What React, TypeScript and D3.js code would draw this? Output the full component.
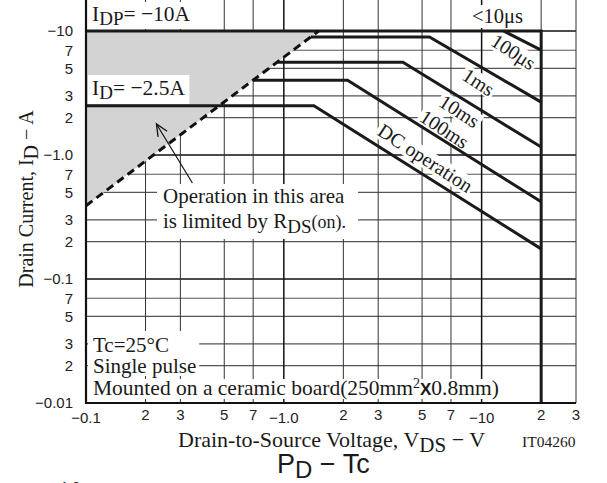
import React, { useEffect, useRef } from "react";
import * as d3 from "d3";

type Pt = [number, number];

// axis ticks (magnitudes) and their printed labels
const xTicks = [0.1, 0.2, 0.3, 0.5, 0.7, 1, 2, 3, 5, 7, 10, 20, 30];
const xTickLabels = ["−0.1", "2", "3", "5", "7", "−1.0", "2", "3", "5", "7", "−10", "2", "3"];
const yTicks = [0.01, 0.02, 0.03, 0.05, 0.07, 0.1, 0.2, 0.3, 0.5, 0.7, 1, 2, 3, 5, 7, 10];
const yTickLabels = ["−0.01", "2", "3", "5", "7", "−0.1", "2", "3", "5", "7", "−1.0", "2", "3", "5", "7", "−10"];

// SOA boundaries as [|VDS|, |ID|]
const limit10us: Pt[] = [[0.1, 10], [20, 10], [20, 0.01]];
const limit100us: Pt[] = [[12.9, 10], [20, 7.0]];
const limit1ms: Pt[] = [[1.37, 8.95], [5.45, 8.95], [20, 2.67]];
const limit10ms: Pt[] = [[0.93, 5.6], [4.0, 5.6], [20, 1.16]];
const limit100ms: Pt[] = [[0.7, 4.0], [2.1, 4.0], [20, 0.42]];
const limitDC: Pt[] = [[0.1, 2.5], [1.42, 2.5], [20, 0.175]];
const rdsOnLimit: Pt[] = [[0.1, 0.39], [1.5, 10]];

// curve label anchors (data coords)
const curveLabels = [
  { text: "100μs", v: 14.5, i: 6.8 },
  { text: "1ms", v: 9.66, i: 3.88 },
  { text: "10ms", v: 7.73, i: 2.26 },
  { text: "100ms", v: 6.49, i: 1.62 },
  { text: "DC operation", v: 5.2, i: 0.946 },
];
const arrowFrom: Pt = [0.345, 0.594];
const arrowTo: Pt = [0.227, 1.78];

const SERIF = "'Liberation Serif', 'Times New Roman', serif";
const SANS = "'Liberation Sans', Arial, sans-serif";

export default function App() {
  const ref = useRef<SVGSVGElement | null>(null);

  useEffect(() => {
    const svg = d3.select(ref.current);
    svg.selectAll("*").remove();

    const x = d3.scaleLog().domain([0.1, 30]).range([86, 576]);
    const y = d3.scaleLog().domain([0.01, 10]).range([403, 31]);
    const x0 = x(0.1), x1 = x(30), yb = y(0.01), yTop = -5;
    const isMajor = (v: number) => Math.abs(Math.log10(v) - Math.round(Math.log10(v))) < 1e-6;

    const gridL = svg.append("g");
    const shadeL = svg.append("g");
    const boxL = svg.append("g");
    const curveL = svg.append("g");
    const textL = svg.append("g");

    // grid
    yTicks.forEach((v) => {
      gridL.append("line")
        .attr("x1", x0).attr("x2", x1).attr("y1", y(v)).attr("y2", y(v))
        .attr("stroke", isMajor(v) ? "#111" : "#555")
        .attr("stroke-width", isMajor(v) ? 1.6 : 1.1);
    });
    xTicks.forEach((v) => {
      gridL.append("line")
        .attr("x1", x(v)).attr("x2", x(v)).attr("y1", yb).attr("y2", yTop)
        .attr("stroke", isMajor(v) ? "#111" : "#333")
        .attr("stroke-width", isMajor(v) ? 1.5 : 1);
    });

    // RDS(on) limited area
    shadeL.append("path")
      .attr("d", "M" + [rdsOnLimit[0], rdsOnLimit[1], [0.1, 10] as Pt].map((d) => `${x(d[0])},${y(d[1])}`).join("L") + "Z")
      .attr("fill", "#d3d3d3");

    const boxed = (t: d3.Selection<SVGTextElement, unknown, null, undefined>, p = { l: 4, r: 4, t: 1, b: 1 }) => {
      const b = (t.node() as SVGTextElement).getBBox();
      boxL.append("rect")
        .attr("x", b.x - p.l).attr("y", b.y - p.t)
        .attr("width", b.width + p.l + p.r).attr("height", b.height + p.t + p.b)
        .attr("transform", t.attr("transform"))
        .attr("fill", "#fff");
    };

    const line = d3.line<Pt>().x((d) => x(d[0])).y((d) => y(d[1]));
    [limit10us, limit100us, limit1ms, limit10ms, limit100ms, limitDC].forEach((s) => {
      curveL.append("path").attr("d", line(s)).attr("fill", "none")
        .attr("stroke", "#1a1a1a").attr("stroke-width", 3).attr("stroke-linejoin", "miter");
    });
    curveL.append("path").attr("d", line(rdsOnLimit)).attr("fill", "none")
      .attr("stroke", "#111").attr("stroke-width", 3).attr("stroke-dasharray", "8,5");

    // arrow
    const ax0 = x(arrowFrom[0]), ay0 = y(arrowFrom[1]), ax1 = x(arrowTo[0]), ay1 = y(arrowTo[1]);
    const ang = Math.atan2(ay0 - ay1, ax0 - ax1);
    curveL.append("line").attr("x1", ax0).attr("y1", ay0).attr("x2", ax1).attr("y2", ay1)
      .attr("stroke", "#111").attr("stroke-width", 1.2);
    const head = [ang - 0.42, ang + 0.42].map((a) => [ax1 + 13 * Math.cos(a), ay1 + 13 * Math.sin(a)]);
    curveL.append("path")
      .attr("d", `M${head[0][0]},${head[0][1]}L${ax1},${ay1}L${head[1][0]},${head[1][1]}`)
      .attr("fill", "none").attr("stroke", "#111").attr("stroke-width", 1.3);

    // frame
    curveL.append("line").attr("x1", x0).attr("x2", x0).attr("y1", yb + 1).attr("y2", yTop).attr("stroke", "#111").attr("stroke-width", 2.2);
    curveL.append("line").attr("x1", x0 - 1).attr("x2", x1).attr("y1", yb).attr("y2", yb).attr("stroke", "#111").attr("stroke-width", 2.2);

    // tick labels
    yTicks.forEach((v, k) => {
      textL.append("text").attr("x", 73).attr("y", y(v)).attr("dy", "0.36em")
        .attr("text-anchor", "end").attr("font-family", SANS).attr("font-size", 15)
        .attr("fill", "#222").text(yTickLabels[k]);
    });
    xTicks.forEach((v, k) => {
      textL.append("text").attr("x", x(v)).attr("y", isMajor(v) ? 423 : 420)
        .attr("text-anchor", "middle").attr("font-family", SANS).attr("font-size", 15)
        .attr("fill", "#222").text(xTickLabels[k]);
    });

    const serif = (px: number, py: number, size = 20) =>
      textL.append("text").attr("x", px).attr("y", py).attr("font-family", SERIF)
        .attr("font-size", size).attr("fill", "#1a1a1a");

    // IDP label
    const idp = serif(92, 21, 21.5);
    idp.append("tspan").text("I");
    idp.append("tspan").attr("dy", 4).attr("font-size", 19).text("DP");
    idp.append("tspan").attr("dy", -4).text("= −10A");
    boxed(idp, { l: 3, r: 3, t: 0, b: 0 });

    // ID label
    const id = serif(92, 95, 21.5);
    id.append("tspan").text("I");
    id.append("tspan").attr("dy", 4).attr("font-size", 19).text("D");
    id.append("tspan").attr("dy", -4).text("= −2.5A");
    boxed(id, { l: 4, r: 4, t: 1, b: 1 });

    const us10 = serif(472, 23, 20.5).text("<10μs");
    boxed(us10, { l: 3, r: 3, t: 0, b: 0 });

    curveLabels.forEach((c) => {
      const t = textL.append("text")
        .attr("transform", `translate(${x(c.v)},${y(c.i)}) rotate(33)`)
        .attr("text-anchor", "middle").attr("dy", "0.35em")
        .attr("font-family", SERIF).attr("font-size", 20).attr("fill", "#1a1a1a")
        .text(c.text);
      boxed(t, { l: 2, r: 2, t: -2, b: -2 });
    });

    // RDS(on) note
    const op = serif(163, 203, 21);
    op.append("tspan").attr("x", 163).text("Operation in this area");
    op.append("tspan").attr("x", 163).attr("dy", 25).text("is limited by R");
    op.append("tspan").attr("dy", 5).attr("font-size", 19).text("DS");
    op.append("tspan").attr("dy", -5).attr("font-size", 18).text("(on).");
    boxed(op, { l: 6, r: 12, t: 0, b: 2 });

    // conditions
    const tc = serif(93, 352, 21);
    tc.append("tspan").attr("x", 93).text("Tc=25°C");
    tc.append("tspan").attr("x", 93).attr("dy", 21).text("Single pulse");
    boxed(tc, { l: 5, r: 3, t: 2, b: -2 });
    const mt = serif(93, 395, 21.5);
    mt.append("tspan").text("Mounted on a ceramic board(250mm");
    mt.append("tspan").attr("dy", -7).attr("font-size", 14).text("2");
    mt.append("tspan").attr("dy", 7).attr("font-family", SANS).attr("font-weight", "bold").attr("font-size", 17).text("X");
    mt.append("tspan").text("0.8mm)");
    boxed(mt, { l: 5, r: 3, t: -3, b: -1 });

    // axis titles
    const xt = serif(178, 447, 22);
    xt.append("tspan").text("Drain-to-Source Voltage, V");
    xt.append("tspan").attr("dy", 5).attr("font-size", 21).text("DS");
    xt.append("tspan").attr("dy", -5).text("  −  V");

    const yt = textL.append("text").attr("transform", "translate(33,199) rotate(-90)")
      .attr("text-anchor", "middle").attr("font-family", SERIF).attr("font-size", 20).attr("fill", "#1a1a1a");
    yt.append("tspan").text("Drain Current, I");
    yt.append("tspan").attr("dy", 5).text("D");
    yt.append("tspan").attr("dy", -5).text(" − A");

    serif(522, 447, 15.5).text("IT04260");

    // next chart title (cropped)
    const pd = textL.append("text").attr("x", 277).attr("y", 473).attr("font-family", SANS)
      .attr("font-size", 27).attr("fill", "#1a1a1a");
    pd.append("tspan").text("P");
    pd.append("tspan").attr("dy", 5).attr("font-size", 24).text("D");
    pd.append("tspan").attr("dy", -5).text("  −  Tc");
    textL.append("text").attr("x", 80).attr("y", 492).attr("text-anchor", "end")
      .attr("font-family", SANS).attr("font-size", 14).attr("fill", "#222").text("1.0");
  }, []);

  return (
    <svg ref={ref} width={607} height={483}
      style={{ position: "absolute", left: 0, top: 0, background: "#fff" }} />
  );
}
